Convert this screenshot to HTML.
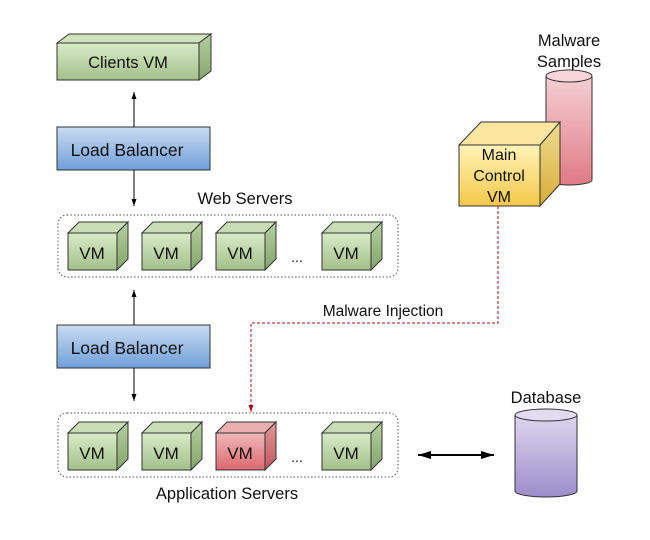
<!DOCTYPE html>
<html><head><meta charset="utf-8"><style>
html,body{margin:0;padding:0;background:#fff;width:650px;height:540px;overflow:hidden}
text{font-family:"Liberation Sans",Arial,sans-serif;fill:#111}
</style></head><body>
<svg width="650" height="540" viewBox="0 0 650 540" xmlns="http://www.w3.org/2000/svg">
<defs>
<linearGradient id="g" x1="0" y1="0" x2="0" y2="1"><stop offset="0" stop-color="#d8ebc8"/><stop offset="1" stop-color="#a3c08a"/></linearGradient>
<linearGradient id="gs" x1="0" y1="0" x2="0" y2="1"><stop offset="0" stop-color="#b5cfa0"/><stop offset="1" stop-color="#86a56c"/></linearGradient>
<linearGradient id="b" x1="0" y1="0" x2="0" y2="1"><stop offset="0" stop-color="#cadcf2"/><stop offset="1" stop-color="#6f9fd9"/></linearGradient>
<linearGradient id="r" x1="0" y1="0" x2="0" y2="1"><stop offset="0" stop-color="#f0b8b8"/><stop offset="1" stop-color="#dd6870"/></linearGradient>
<linearGradient id="rs" x1="0" y1="0" x2="0" y2="1"><stop offset="0" stop-color="#e09898"/><stop offset="1" stop-color="#c25860"/></linearGradient>
<linearGradient id="y" x1="0" y1="0" x2="0" y2="1"><stop offset="0" stop-color="#fff3b8"/><stop offset="1" stop-color="#f4c84a"/></linearGradient>
<linearGradient id="ys" x1="0" y1="0" x2="0" y2="1"><stop offset="0" stop-color="#efdc90"/><stop offset="1" stop-color="#d8ab38"/></linearGradient>
<linearGradient id="p" x1="0" y1="0" x2="0" y2="1"><stop offset="0" stop-color="#dcd6ee"/><stop offset="1" stop-color="#9c8ecb"/></linearGradient>
<linearGradient id="pk" x1="0" y1="0" x2="0" y2="1"><stop offset="0" stop-color="#f5d0d4"/><stop offset="1" stop-color="#e07a86"/></linearGradient>
<marker id="a" markerWidth="8" markerHeight="8" refX="7" refY="4" orient="auto" markerUnits="userSpaceOnUse"><path d="M0,1.5 L7,4 L0,6.5 z" fill="#000"/></marker>
<marker id="ab" markerWidth="14" markerHeight="10" refX="13" refY="5" orient="auto" markerUnits="userSpaceOnUse"><path d="M0,1 L13,5 L0,9 z" fill="#000"/></marker>
<marker id="ar" markerWidth="8" markerHeight="8" refX="7" refY="4" orient="auto" markerUnits="userSpaceOnUse"><path d="M0,1.5 L7,4 L0,6.5 z" fill="#a01020"/></marker>
</defs>
<g stroke="#333" stroke-width="1">
<polygon points="57,43 69,34 211,34 199,43" fill="#cfe3bd"/>
<polygon points="199,43 211,34 211,71 199,80" fill="url(#gs)"/>
<rect x="57" y="43" width="142" height="37" fill="url(#g)"/>
<rect x="57" y="127" width="153" height="43" fill="url(#b)"/>
<rect x="57" y="325" width="153" height="43" fill="url(#b)"/>
</g>
<text x="128" y="68" font-size="16.5" text-anchor="middle">Clients VM</text>
<text x="127" y="156" font-size="17.5" text-anchor="middle">Load Balancer</text>
<text x="127" y="354" font-size="17.5" text-anchor="middle">Load Balancer</text>
<g stroke="#000" stroke-width="1">
<line x1="134" y1="127" x2="134" y2="92" marker-end="url(#a)"/>
<line x1="134" y1="170" x2="134" y2="206" marker-end="url(#a)"/>
<line x1="134" y1="325" x2="134" y2="290" marker-end="url(#a)"/>
<line x1="134" y1="368" x2="134" y2="401" marker-end="url(#a)"/>
</g>
<text x="245" y="204" font-size="16.5" text-anchor="middle">Web Servers</text>
<rect x="58" y="215" width="340" height="62" rx="9" fill="none" stroke="#555" stroke-dasharray="1.5,2"/>
<rect x="58" y="413" width="340" height="64" rx="9" fill="none" stroke="#555" stroke-dasharray="1.5,2"/>
<text x="227" y="499" font-size="16.5" text-anchor="middle">Application Servers</text>
<g stroke="#333" stroke-width="1">
<g id="vm"><polygon points="68,233 79,222 128,222 117,233" fill="#c8ddb5"/><polygon points="117,233 128,222 128,259 117,270" fill="url(#gs)"/><rect x="68" y="233" width="49" height="37" fill="url(#g)"/></g>
<use href="#vm" x="74"/><use href="#vm" x="148"/><use href="#vm" x="254"/>
<use href="#vm" y="200"/><use href="#vm" x="74" y="200"/><use href="#vm" x="254" y="200"/>
<g transform="translate(148,200)"><polygon points="68,233 79,222 128,222 117,233" fill="#eab0b0"/><polygon points="117,233 128,222 128,259 117,270" fill="url(#rs)"/><rect x="68" y="233" width="49" height="37" fill="url(#r)"/></g>
</g>
<g font-size="17" text-anchor="middle">
<text x="92" y="259">VM</text><text x="166" y="259">VM</text><text x="240" y="259">VM</text><text x="346" y="259">VM</text>
<text x="92" y="459">VM</text><text x="166" y="459">VM</text><text x="240" y="459">VM</text><text x="346" y="459">VM</text>
<text x="297" y="262" font-size="14">...</text><text x="297" y="462" font-size="14">...</text>
</g>
<g stroke="#333">
<path d="M546,76 L546,180 A23,5 0 0 0 592,180 L592,76" fill="url(#pk)"/>
<ellipse cx="569" cy="76" rx="23" ry="6" fill="#f6d6da"/>
<polygon points="459,145 481,122 560,122 540,145" fill="#fbe6a0"/>
<polygon points="540,145 560,122 560,184 540,206" fill="url(#ys)"/>
<rect x="459" y="145" width="81" height="61" fill="url(#y)"/>
<path d="M515,415 L515,491 A31,6 0 0 0 577,491 L577,415" fill="url(#p)"/>
<ellipse cx="546" cy="415" rx="31" ry="6" fill="#e2dcf1"/>
</g>
<text x="569" y="46" font-size="16.5" text-anchor="middle">Malware</text>
<text x="569" y="67" font-size="16.5" text-anchor="middle">Samples</text>
<text x="499" y="160" font-size="16" text-anchor="middle">Main</text>
<text x="499" y="181" font-size="16" text-anchor="middle">Control</text>
<text x="499" y="202" font-size="16" text-anchor="middle">VM</text>
<text x="546" y="403" font-size="16.5" text-anchor="middle">Database</text>
<text x="383" y="316" font-size="15.5" text-anchor="middle">Malware Injection</text>
<polyline points="498,206 498,323 251,323 251,412" fill="none" stroke="#a01020" stroke-dasharray="3,2" marker-end="url(#ar)"/>
<line x1="432" y1="455" x2="494" y2="455" stroke="#000" stroke-width="2" marker-end="url(#ab)"/>
<line x1="480" y1="455" x2="418" y2="455" stroke="#000" stroke-width="2" marker-end="url(#ab)"/>
</svg>
</body></html>
